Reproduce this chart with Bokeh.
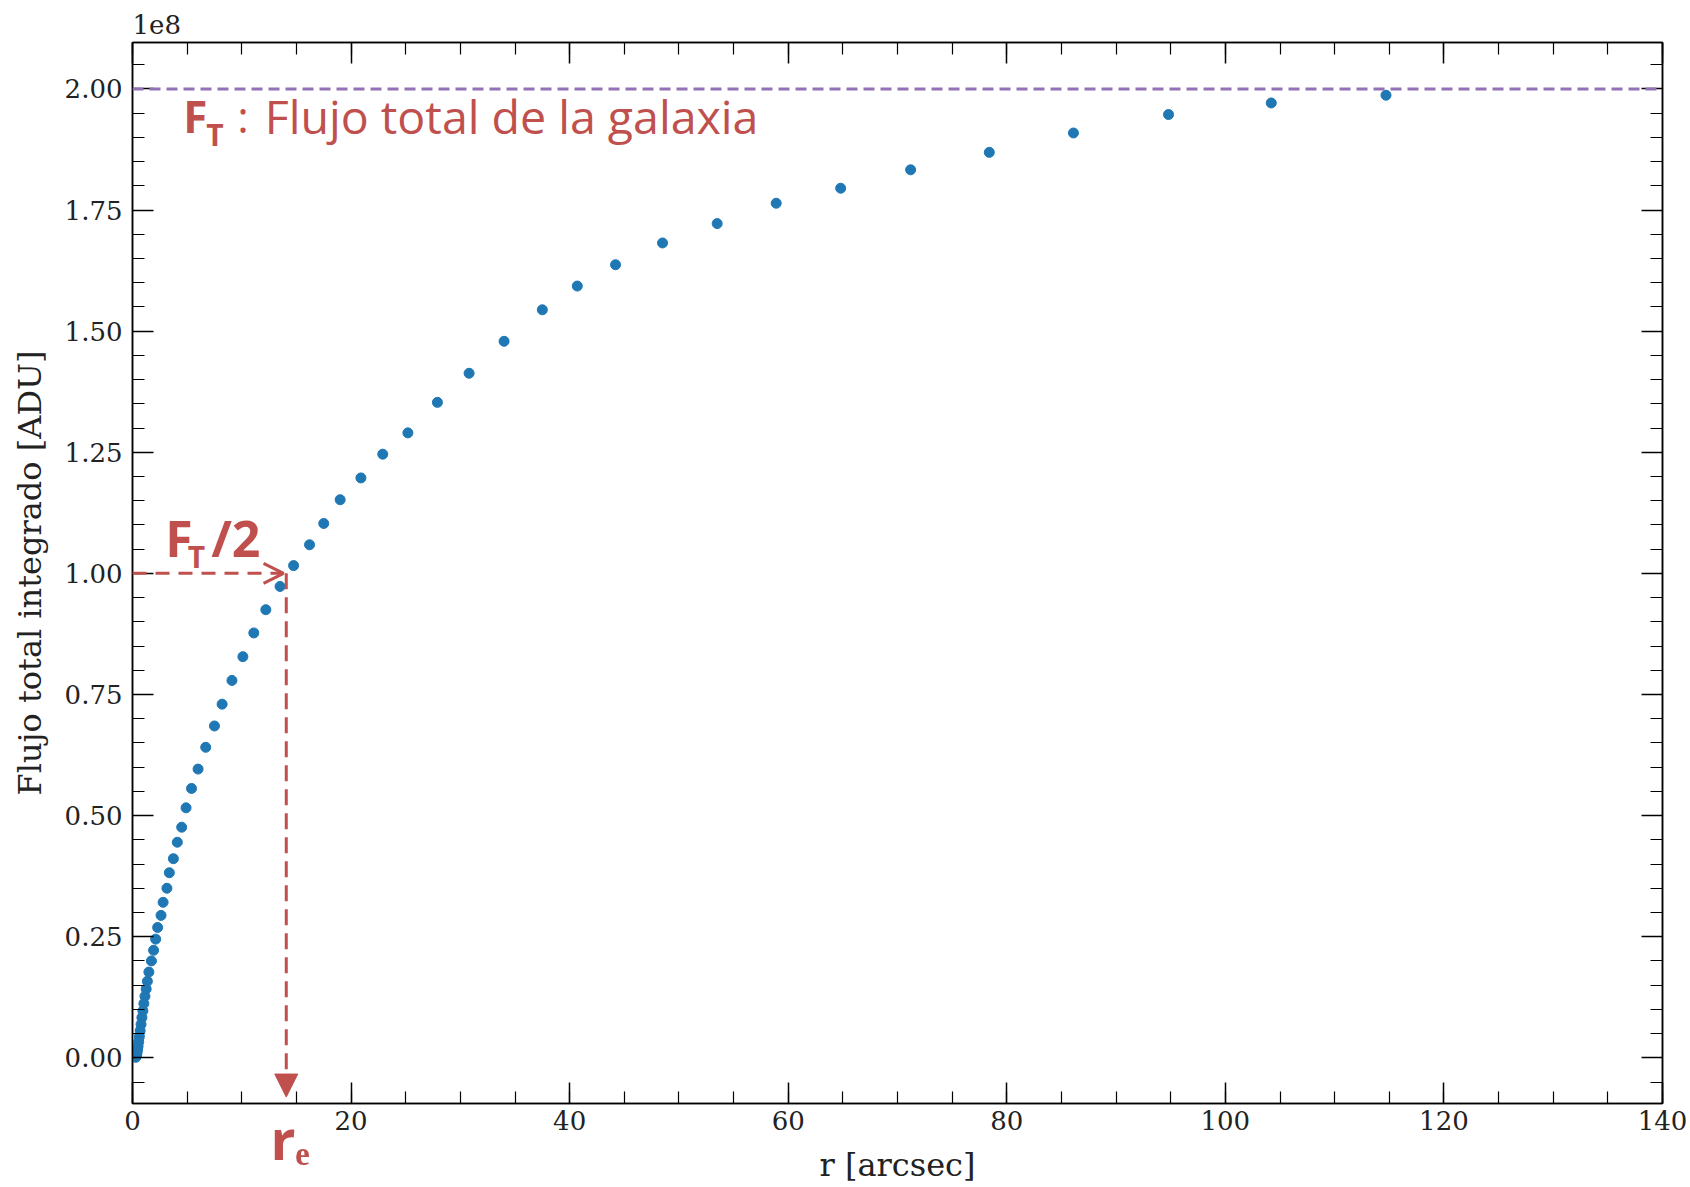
from bokeh.plotting import figure
from bokeh.models import (Range1d, LinearAxis, SingleIntervalTicker, PrintfTickFormatter,
                          CustomJSTickFormatter, Span, Arrow, OpenHead, NormalHead, Label, Title)
from bokeh.embed import file_html
from bokeh.resources import INLINE

# ---- data (flux in units of 1e8 ADU) ----
r_arcsec = [114.7, 104.2, 94.8, 86.1, 78.4, 71.2, 64.8, 58.9, 53.5, 48.5, 44.2, 40.7, 37.5,
            34.0, 30.8, 27.9, 25.2, 22.9, 20.9, 19.0, 17.5, 16.2, 14.74, 13.5, 12.2, 11.1,
            10.1, 9.1, 8.2, 7.5, 6.7, 6.0, 5.4, 4.9, 4.5, 4.1, 3.74, 3.37, 3.15, 2.80, 2.61,
            2.30, 2.12, 1.93, 1.73, 1.50, 1.36, 1.25, 1.14, 1.04, 0.95, 0.86, 0.78, 0.70,
            0.63, 0.57, 0.51, 0.46, 0.41, 0.36, 0.30]
flux_1e8 = [1.987, 1.971, 1.947, 1.909, 1.869, 1.833, 1.795, 1.764, 1.722, 1.682, 1.637, 1.593,
            1.544, 1.479, 1.413, 1.353, 1.290, 1.246, 1.197, 1.152, 1.103, 1.059, 1.016, 0.973,
            0.925, 0.877, 0.828, 0.779, 0.730, 0.685, 0.641, 0.596, 0.556, 0.516, 0.476, 0.445,
            0.411, 0.382, 0.350, 0.321, 0.294, 0.269, 0.245, 0.222, 0.200, 0.177, 0.158, 0.142,
            0.127, 0.112, 0.097, 0.083, 0.069, 0.056, 0.044, 0.033, 0.024, 0.016, 0.009, 0.004,
            0.001]
F_TOTAL = 2.0          # total flux (1e8 ADU)
F_HALF = F_TOTAL / 2   # half flux
R_E = 14.07            # effective radius (arcsec)
x_ticks_major = 20
y_ticks_major = 0.25

RED = "#c0504d"
PURPLE = "#9271b5"
BLUE = "#1f77b4"
SERIF = "DejaVu Serif"
SANS = "Open Sans"

p = figure(width=1690, height=1187, output_backend="svg", toolbar_location=None,
           x_range=Range1d(0, 140), y_range=Range1d(-0.0943, 2.0958),
           min_border_left=132, min_border_right=28, min_border_top=42, min_border_bottom=84,
           background_fill_color="white", border_fill_color="white")
p.grid.visible = False
p.outline_line_color = "black"
p.outline_line_width = 1.5

xt = SingleIntervalTicker(interval=x_ticks_major, num_minor_ticks=4)
yt = SingleIntervalTicker(interval=y_ticks_major, num_minor_ticks=5)

# main (labelled) axes, configured before the extra frame axes are added
xb = p.xaxis[0]
yl = p.yaxis[0]
xb.ticker = xt
yl.ticker = yt
yl.formatter = PrintfTickFormatter(format="%.2f")
xb.major_label_standoff = 7
xb.axis_label = "r [arcsec]"
xb.axis_label_standoff = 13
yl.major_label_standoff = 10
yl.axis_label = "Flujo total integrado [ADU]"
yl.axis_label_standoff = 13

p.add_layout(LinearAxis(ticker=xt, formatter=CustomJSTickFormatter(code="return ''"),
                        major_label_standoff=0), "above")
p.add_layout(LinearAxis(ticker=yt, formatter=CustomJSTickFormatter(code="return ''"),
                        major_label_standoff=0), "right")

for ax in p.axis:
    ax.axis_line_width = 1.5
    ax.axis_line_color = "black"
    ax.major_tick_in = 21
    ax.major_tick_out = 0
    ax.minor_tick_in = 12
    ax.minor_tick_out = 0
    ax.major_tick_line_width = 1.5
    ax.minor_tick_line_width = 1.2
    ax.major_tick_line_color = "black"
    ax.minor_tick_line_color = "black"
    ax.major_label_text_font = SERIF
    ax.major_label_text_font_size = "26px"
    ax.major_label_text_color = "#222222"
    ax.axis_label_text_font = SERIF
    ax.axis_label_text_font_size = "32px"
    ax.axis_label_text_font_style = "normal"
    ax.axis_label_text_color = "#222222"

# total-flux line
p.add_layout(Span(location=F_TOTAL, dimension="width", line_color=PURPLE,
                  line_dash="11 6", line_width=3))

# data
p.scatter(r_arcsec, flux_1e8, size=10, color=BLUE)

# half-flux arrows
p.add_layout(Arrow(x_start=0, y_start=F_HALF, x_end=R_E - 0.25, y_end=F_HALF,
                   line_color=RED, line_width=3, line_dash="14 9",
                   end=OpenHead(size=20, line_color=RED, line_width=3)))
p.add_layout(Arrow(x_start=R_E, y_start=F_HALF, x_end=R_E, y_end=-0.081,
                   line_color=RED, line_width=3, line_dash="16 8",
                   end=NormalHead(size=23, fill_color=RED, line_color=RED, line_width=1)))

def lab(x, y, text, size, font=SANS, style="normal", color=RED):
    p.add_layout(Label(x=x, y=y, text=text, text_font=font, text_font_size=size,
                       text_font_style=style, text_color=color,
                       text_align="left", text_baseline="alphabetic"))

# F_T : Flujo total de la galaxia
lab(4.64, 1.945, "F", "44px", style="bold")
lab(6.75, 1.905, "T", "30px", style="bold")
lab(9.58, 1.945, ":", "44px")
lab(12.1, 1.945, "Flujo total de la galaxia", "46.5px")

# F_T/2
lab(3.0, 1.074, "F", "50px", style="bold")
lab(5.05, 1.035, "T", "30px", style="bold")
lab(7.2, 1.074, "/2", "50px", style="bold")

# r_e below the x axis (side-panel title, pulled up with a negative standoff)
p.add_layout(Title(text="r\u2091", align="left", vertical_align="top", offset=138,
                   standoff=-172, text_font=SANS, text_font_size="55px",
                   text_font_style="bold", text_color=RED), "below")

# offset text above the frame
p.add_layout(Title(text="1e8", align="left", text_font=SERIF, text_font_size="26px",
                   text_font_style="normal", text_color="#222222", standoff=18), "above")

open("out.html", "w").write(file_html(p, INLINE))
